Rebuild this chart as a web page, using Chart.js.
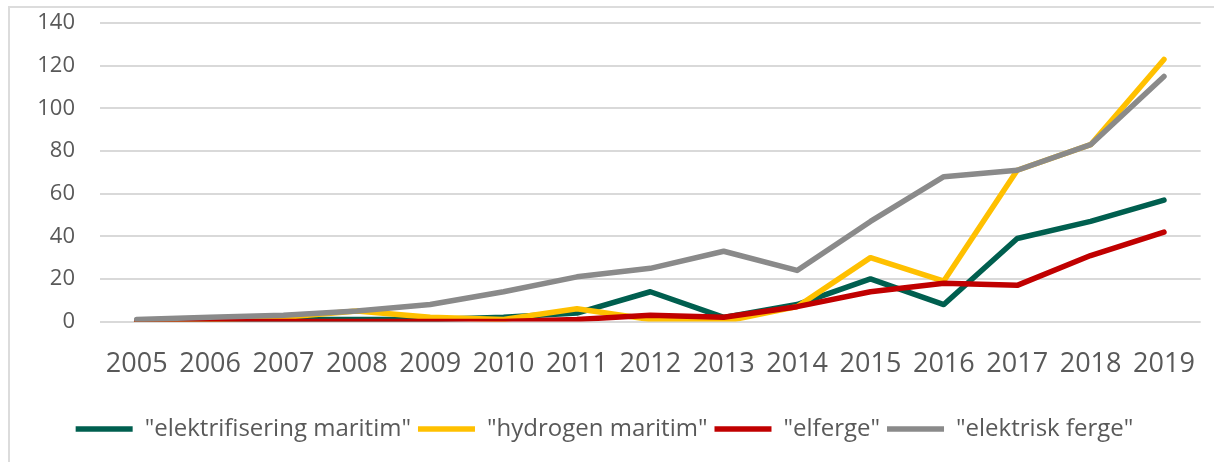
<!DOCTYPE html>
<html>
<head>
<meta charset="utf-8">
<script src="https://cdn.jsdelivr.net/npm/chart.js@4/dist/chart.umd.min.js"></script>
<style>
  html, body { margin: 0; padding: 0; background: #fff; }
  #wrap { position: relative; width: 1214px; height: 462px; overflow: hidden; }
  #frame { position: absolute; left: 8px; top: 6px; right: 0; bottom: 0; border-left: 2px solid #dcdcdc; border-top: 2px solid #dcdcdc; }
  canvas { position: absolute; left: 0; top: -15px; }
</style>
</head>
<body>
<div id="wrap">
  <div id="frame"></div>
  <canvas id="chart" width="1214" height="477"></canvas>
</div>
<script>
const years = ['2005', '2006', '2007', '2008', '2009', '2010', '2011', '2012', '2013', '2014', '2015', '2016', '2017', '2018', '2019'];
const elektrifiseringMaritim = [0, 0, 1, 1, 1, 2, 4, 14, 2, 8, 20, 8, 39, 47, 57];
const hydrogenMaritim = [0, 1, 2, 5, 2, 1, 6, 1, 0, 7, 30, 19, 71, 83, 123];
const elferge = [0, 0, 0, 0, 0, 0, 1, 3, 2, 7, 14, 18, 17, 31, 42];
const elektriskFerge = [1, 2, 3, 5, 8, 14, 21, 25, 33, 24, 47, 68, 71, 83, 115];

const textColor = '#595959';
const gridColor = '#d9d9d9';

function series(label, data, color, order) {
    return {
        label: label,
        data: data,
        borderColor: color,
        backgroundColor: color,
        borderWidth: 5.5,
        borderCapStyle: 'round',
        borderJoinStyle: 'round',
        pointRadius: 0,
        pointHoverRadius: 0,
        tension: 0,
        fill: false,
        order: order
    };
}

new Chart(document.getElementById('chart').getContext('2d'), {
    type: 'line',
    data: {
        labels: years,
        datasets: [
            series('"elektrifisering maritim"', elektrifiseringMaritim, '#005f4f', 3),
            series('"hydrogen maritim"', hydrogenMaritim, '#ffc000', 2),
            series('"elferge"', elferge, '#c00000', 1),
            series('"elektrisk ferge"', elektriskFerge, '#8a8a8a', 0)
        ]
    },
    options: {
        responsive: false,
        animation: false,
        layout: { padding: { left: 0, right: 5, top: 0, bottom: 11 } },
        plugins: {
            tooltip: { enabled: false },
            legend: {
                position: 'bottom',
                align: 'center',
                labels: {
                    usePointStyle: true,
                    pointStyle: 'line',
                    pointStyleWidth: 57,
                    boxHeight: 24,
                    padding: 7,
                    color: textColor,
                    font: { family: 'Open Sans', size: 24 },
                    sort: (a, b) => a.datasetIndex - b.datasetIndex
                }
            }
        },
        scales: {
            x: {
                offset: true,
                afterFit: (s) => { s.height += 10; },
                grid: { display: false },
                border: { display: false },
                ticks: {
                    color: textColor,
                    font: { family: 'Open Sans', size: 27 },
                    padding: 19,
                    maxRotation: 0,
                    autoSkip: false
                }
            },
            y: {
                min: 0,
                max: 140,
                afterFit: (s) => { s.width = 100; },
                grid: { color: gridColor, lineWidth: 2, drawTicks: false },
                border: { display: false },
                ticks: {
                    stepSize: 20,
                    color: textColor,
                    font: { family: 'Open Sans', size: 22 },
                    padding: 25
                }
            }
        }
    }
});
</script>
</body>
</html>
